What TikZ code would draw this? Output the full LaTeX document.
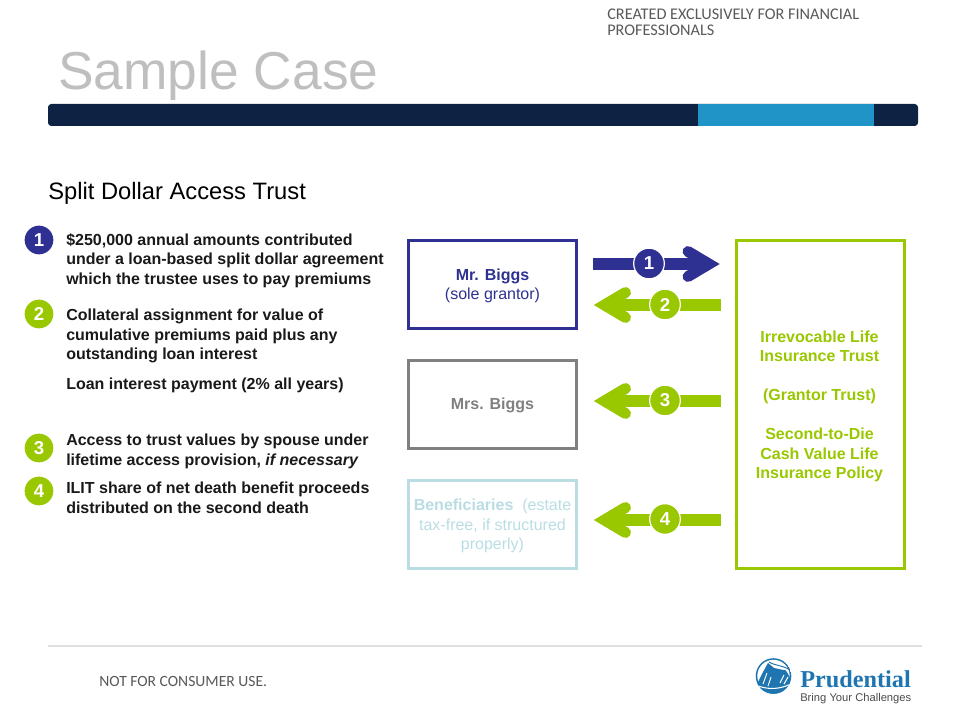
\documentclass[tikz,border=0pt]{standalone}
\usepackage{fontspec}
\setmainfont{Liberation Sans}
\newfontfamily\gillfont{Carlito}
\newfontfamily\prufont{Liberation Serif}
\definecolor{navybar}{HTML}{0E2244}
\definecolor{midblue}{HTML}{2094C6}
\definecolor{indigo}{HTML}{2E3192}
\definecolor{lime}{HTML}{99C700}
\definecolor{greyb}{HTML}{808080}
\definecolor{paleb}{HTML}{B9DDE3}
\definecolor{titleg}{HTML}{BFBFBF}
\definecolor{logob}{HTML}{1F75B0}
\tikzset{
  x=0.75pt,y=-0.75pt,
  box/.style={draw=#1,line width=2.25pt,minimum width=126pt,minimum height=66pt,inner sep=0pt},
  boxtext/.style={inner sep=0pt,align=center,text=#1,font=\fontsize{12pt}{14.6pt}\selectfont},
  lab/.style={anchor=north west,inner sep=0pt,align=left,font=\fontsize{12pt}{14.6pt}\selectfont\bfseries,text=black!90},
  num/.style={circle,fill=#1,draw=white,line width=0.9pt,minimum size=23pt,inner sep=0pt,text=white,font=\fontsize{14pt}{14pt}\selectfont\bfseries},
  bul/.style={circle,fill=#1,minimum size=21.5pt,inner sep=0pt,text=white,font=\fontsize{14pt}{14pt}\selectfont\bfseries},
  shaft/.style={draw=#1,line width=8.6pt},
  head/.style={draw=#1,line width=8.2pt,line cap=round,miter limit=10},
}
\begin{document}
\begin{tikzpicture}
\useasboundingbox (0,0) rectangle (960,720);
% header
\node[anchor=north west,inner sep=0pt,align=left,text=black!65,font=\gillfont\fontsize{12.2pt}{11.8pt}\selectfont] (hdr) at (607,9) {CREATED EXCLUSIVELY FOR FINANCIAL\\PROFESSIONALS};
\node[anchor=base west,inner sep=0pt,text=titleg,font=\fontsize{40pt}{40pt}\selectfont] (title) at (58,90) {Sample Case};
\fill[navybar,rounded corners=2.5pt] (48,104) rectangle (918,126);
\fill[midblue] (698,104) rectangle (874,126);
\node[anchor=base west,inner sep=0pt,font=\fontsize{17.8pt}{18pt}\selectfont] (sub) at (48,199.5) {Split Dollar Access Trust};
% left list
\node[bul=indigo] (b1) at (39,240) {1};
\node[bul=lime] (b2) at (39,314) {2};
\node[bul=lime] (b3) at (39,448) {3};
\node[bul=lime] (b4) at (39,491) {4};
\node[lab] (t1) at (66,233) {\$250,000 annual amounts contributed\\under a loan-based split dollar agreement\\which the trustee uses to pay premiums};
\node[lab] (t2) at (66,309) {Collateral assignment for value of\\cumulative premiums paid plus any\\outstanding loan interest};
\node[lab] (t2b) at (66,378) {Loan interest payment (2\% all years)};
\node[lab] (t3) at (66,434) {Access to trust values by spouse under\\lifetime access provision, \textit{if necessary}};
\node[lab] (t4) at (66,482) {ILIT share of net death benefit proceeds\\distributed on the second death};
% boxes
\node[box=indigo] (mr) at (492.5,284.5) {};
\node[boxtext=indigo] (mrt) at (492.5,286) {\textbf{Mr. Biggs}\\(sole grantor)};
\node[box=greyb] (mrs) at (492.5,404) {};
\node[boxtext=greyb] (mrst) at (492.5,405.5) {\textbf{Mrs. Biggs}};
\node[box=paleb] (ben) at (492.5,524.5) {};
\node[boxtext=paleb] (bent) at (492.5,526) {\textbf{Beneficiaries}\ \ (estate\\tax-free, if structured\\properly)};
\node[draw=lime,line width=2.25pt,minimum width=126pt,minimum height=246pt,inner sep=0pt] (ilit) at (820.5,404.5) {};
\node[boxtext=lime,font=\fontsize{12pt}{14.6pt}\selectfont\bfseries] (ilitt) at (819.5,406.5) {Irrevocable Life\\Insurance Trust\\[14.6pt](Grantor Trust)\\[14.6pt]Second-to-Die\\Cash Value Life\\Insurance Policy};
% arrows
\coordinate (a1s) at (593,264);\coordinate (a1e) at (709,264);
\coordinate (a2s) at (721,305);\coordinate (a2e) at (604.5,305);
\coordinate (a3s) at (721,401);\coordinate (a3e) at (604.5,401);
\coordinate (a4s) at (721,520);\coordinate (a4e) at (604.5,520);
\draw[shaft=indigo] (a1s) -- (a1e);
\draw[head=indigo] ([shift={(-21,-12.5)}]a1e) -- (a1e) -- ([shift={(-21,12.5)}]a1e);
\foreach \s/\e in {a2s/a2e,a3s/a3e,a4s/a4e}{
  \draw[shaft=lime] (\s) -- (\e);
  \draw[head=lime] ([shift={(21,-12.5)}]\e) -- (\e) -- ([shift={(21,12.5)}]\e);
}
\node[num=indigo] (n1) at (649,263.5) {1};
\node[num=lime] (n2) at (665,304.5) {2};
\node[num=lime] (n3) at (665,400.5) {3};
\node[num=lime] (n4) at (665,519) {4};
% footer
\draw[black!12,line width=0.8pt] (48,646) -- (922,646);
\node[anchor=base west,inner sep=0pt,text=black!65,font=\gillfont\fontsize{11.7pt}{12pt}\selectfont] (nf) at (99,686.5) {NOT FOR CONSUMER USE.};
% logo
\begin{scope}
\clip (773.5,676) circle (17.8);
\fill[logob] (773.5,676) circle (17.8);
\fill[white] (773.5,676) circle (16.2);
\fill[logob] (768,663) -- (774,668) -- (786,670.5) -- (792,681) -- (792,695) -- (755,695) -- (758,682) -- (763,672) -- cycle;
\draw[logob,line width=0.7pt] (769,662) .. controls (776,666) and (782,665) .. (790,670);
\draw[white,line width=0.7pt] (763,684) -- (767,673);
\draw[white,line width=0.7pt] (768,686) -- (771,677);
\draw[white,line width=0.8pt] (780,683) -- (784,675);
\draw[white,line width=0.8pt] (784,684) -- (788,677);
\draw[white,line width=0.8pt] (758,686) .. controls (770,690) and (780,689) .. (791,684);
\end{scope}
\node[anchor=base west,inner sep=0pt,text=logob,font=\prufont\bfseries\fontsize{18.2pt}{18pt}\selectfont] (pru) at (800,687) {Prudential};
\node[anchor=base west,inner sep=0pt,text=black!70,font=\fontsize{8.4pt}{10pt}\selectfont] (br) at (800,701) {Bring Your Challenges};
\end{tikzpicture}
\end{document}
